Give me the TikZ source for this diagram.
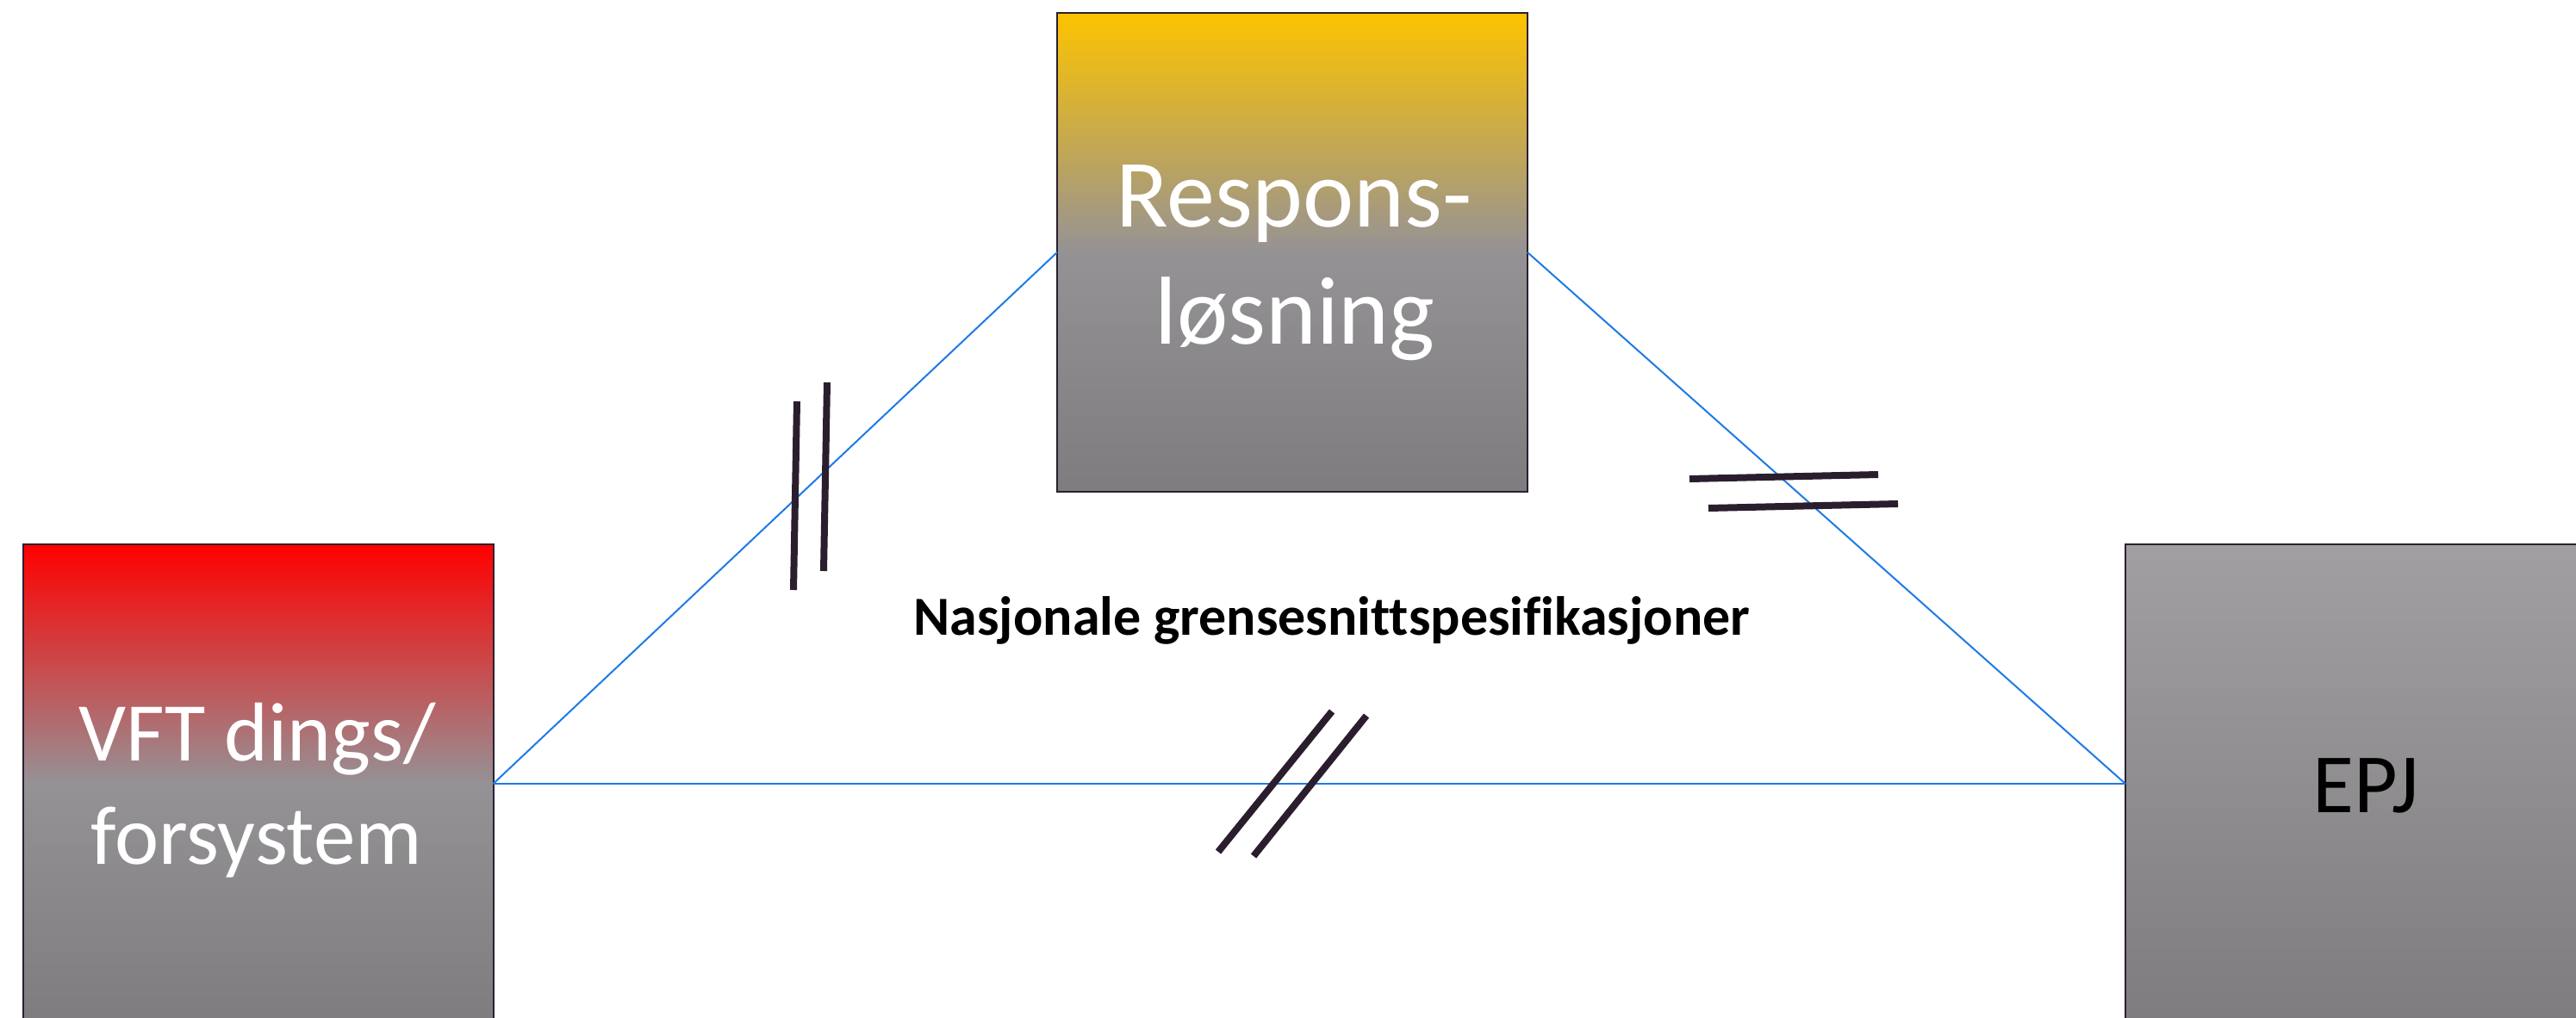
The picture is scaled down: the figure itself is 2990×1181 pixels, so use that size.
\documentclass[tikz,border=0pt]{standalone}
\usepackage{fontspec}
\setmainfont[Ligatures=NoCommon]{Carlito}
\definecolor{gold}{HTML}{FDC300}
\definecolor{midgray}{HTML}{959296}
\definecolor{lowgray}{HTML}{7E7C7F}
\definecolor{topgray}{HTML}{A19FA2}
\definecolor{linkblue}{HTML}{1E7BE6}
\definecolor{hashcol}{HTML}{2A1E2E}
\definecolor{edgecol}{HTML}{2B2030}
\tikzset{
  sysbox/.style={draw=edgecol, line width=2pt, minimum width=546pt, minimum height=556pt, inner sep=0pt, outer sep=0pt, rectangle},
  link/.style={draw=linkblue, line width=2pt},
  hash/.style={draw=hashcol, line width=8pt},
  bigwhite/.style={anchor=base, text=white, inner sep=0pt},
}
\begin{document}
\begin{tikzpicture}[x=1pt,y=-1pt]
\useasboundingbox (0,0) rectangle (2990,1181);
\clip (0,0) rectangle (2990,1181);
\fill[white] (0,0) rectangle (2990,1181);
% boxes
\node[sysbox, top color=gold, bottom color=lowgray, middle color=midgray] (resp) at (1500,293) {};
\node[sysbox, top color=red, bottom color=lowgray, middle color=midgray] (vft) at (299.5,910) {};
\node[sysbox, top color=topgray, bottom color=lowgray] (epj) at (2740,910) {};
% connectors
\draw[link] (vft.east) -- (resp.west);
\draw[link] (resp.east) -- (epj.west);
\draw[link] (vft.east) -- (epj.west);
% texts
\node[bigwhite, font=\fontsize{112}{136}\selectfont] (t1) at (1502,263) {Respons-};
\node[bigwhite, font=\fontsize{112}{136}\selectfont] (t2) at (1503,399) {løsning};
\node[bigwhite, font=\fontsize{97}{120}\selectfont] (t3) at (299,883) {VFT dings/};
\node[bigwhite, font=\fontsize{97}{120}\selectfont] (t4) at (298,1003) {forsystem};
\node[anchor=base, inner sep=0pt, text=black, font=\fontsize{98}{118}\selectfont] (t5) at (2746,943) {EPJ};
\node[anchor=base, inner sep=0pt, text=black, font=\bfseries\fontsize{64}{77}\selectfont] (lab) at (1546,737) {Nasjonale grensesnittspesifikasjoner};
% hash marks
\coordinate (h1a) at (925,466); \coordinate (h1b) at (921,685);
\coordinate (h2a) at (960,444); \coordinate (h2b) at (956,663);
\draw[hash] (h1a) -- (h1b);
\draw[hash] (h2a) -- (h2b);
\coordinate (h3a) at (1546,826); \coordinate (h3b) at (1414,989);
\coordinate (h4a) at (1586,831); \coordinate (h4b) at (1455,994);
\draw[hash] (h3a) -- (h3b);
\draw[hash] (h4a) -- (h4b);
\coordinate (h5a) at (1961,556); \coordinate (h5b) at (2180,551);
\coordinate (h6a) at (1983,590); \coordinate (h6b) at (2203,585);
\draw[hash] (h5a) -- (h5b);
\draw[hash] (h6a) -- (h6b);
\end{tikzpicture}
\end{document}
